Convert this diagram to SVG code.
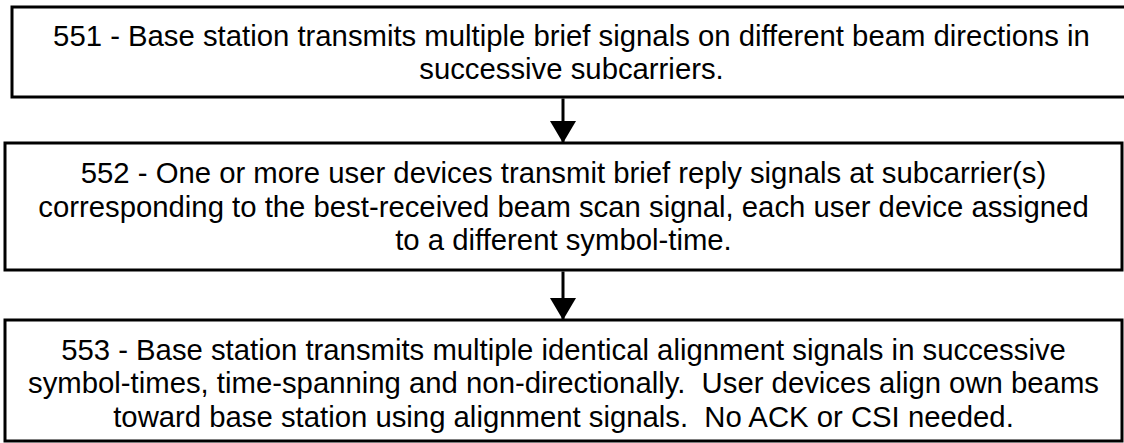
<svg xmlns="http://www.w3.org/2000/svg" width="1124" height="443" viewBox="0 0 1124 443">
<style>
.box{fill:#fff;stroke:#000;stroke-width:3}
.t{font-family:"Liberation Sans",Arial,sans-serif;font-size:29.3px;fill:#000;text-anchor:middle;white-space:pre}
.conn{stroke:#000;stroke-width:3;fill:none}
</style>
<defs>
<marker id="arr" viewBox="0 0 22 26" refX="22" refY="13" markerWidth="22" markerHeight="26" markerUnits="userSpaceOnUse" orient="auto">
<path d="M0,0 L22,13 L0,26 Z" fill="#000"/>
</marker>
</defs>
<rect width="1124" height="443" fill="#fff"/>
<g id="node551">
<rect class="box" x="12" y="7" width="1119" height="90"/>
<text class="t" x="571.5" y="46">551 - Base station transmits multiple brief signals on different beam directions in</text>
<text class="t" x="571.5" y="79.4">successive subcarriers.</text>
</g>
<g id="node552">
<rect class="box" x="5" y="143" width="1117" height="127"/>
<text class="t" x="563.5" y="183.2">552 - One or more user devices transmit brief reply signals at subcarrier(s)</text>
<text class="t" x="563.5" y="216.6">corresponding to the best-received beam scan signal, each user device assigned</text>
<text class="t" x="563.5" y="249.9">to a different symbol-time.</text>
</g>
<g id="node553">
<rect class="box" x="5" y="320" width="1117" height="121"/>
<text class="t" x="563.5" y="360" xml:space="preserve">553 - Base station transmits multiple identical alignment signals in successive</text>
<text class="t" x="563.5" y="393.3" xml:space="preserve">symbol-times, time-spanning and non-directionally.  User devices align own beams</text>
<text class="t" x="563.5" y="426.6" xml:space="preserve">toward base station using alignment signals.  No ACK or CSI needed.</text>
</g>
<g id="connectors">
<path class="conn" d="M563,98.5 L563,143" marker-end="url(#arr)"/>
<path class="conn" d="M563,271.5 L563,320" marker-end="url(#arr)"/>
</g>
</svg>
